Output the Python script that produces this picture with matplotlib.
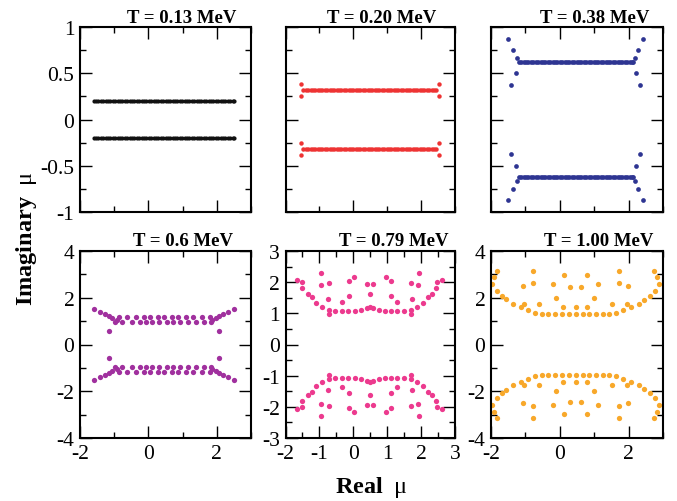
import matplotlib
matplotlib.use('Agg')
import matplotlib.pyplot as plt
from matplotlib.ticker import MultipleLocator, FormatStrFormatter

plt.rcParams['font.family'] = ['Liberation Serif', 'DejaVu Serif']
plt.rcParams['mathtext.fontset'] = 'custom'
plt.rcParams['mathtext.rm'] = 'Liberation Serif'
plt.rcParams['mathtext.bf'] = 'Liberation Serif:bold'
plt.rcParams['mathtext.it'] = 'Liberation Serif:italic'
plt.rcParams['axes.unicode_minus'] = False

# zeros in the upper half plane; the lower half is the complex conjugate
titles = ['T = 0.13 MeV', 'T = 0.20 MeV', 'T = 0.38 MeV',
          'T = 0.6 MeV', 'T = 0.79 MeV', 'T = 1.00 MeV']
colors = ['#111111', '#ee3333', '#2e3592', '#a0309e', '#ec3a8e', '#f8a82a']

# T = 0.13 : one dense row
t013_re = [-1.60, -1.53, -1.46, -1.39, -1.32, -1.25, -1.18, -1.11, -1.04, -0.97,
           -0.90, -0.83, -0.76, -0.69, -0.62, -0.55, -0.48, -0.41, -0.34, -0.27,
           -0.20, -0.13, -0.06, 0.01, 0.08, 0.15, 0.22, 0.29, 0.36, 0.43,
           0.50, 0.57, 0.64, 0.71, 0.78, 0.85, 0.92, 0.99, 1.06, 1.13,
           1.20, 1.27, 1.34, 1.41, 1.48, 1.55, 1.62, 1.69, 1.76, 1.83,
           1.90, 1.97, 2.04, 2.11, 2.18, 2.25, 2.32, 2.39, 2.46, 2.51]
t013_im = 0.20

# T = 0.20 : dense row + end points
t020_re = [-1.47, -1.40, -1.33, -1.26, -1.19, -1.12, -1.05, -0.98, -0.91, -0.84,
           -0.77, -0.70, -0.63, -0.56, -0.49, -0.42, -0.35, -0.28, -0.21, -0.14,
           -0.07, 0.00, 0.07, 0.14, 0.21, 0.28, 0.35, 0.42, 0.49, 0.56,
           0.63, 0.70, 0.77, 0.84, 0.91, 0.98, 1.05, 1.12, 1.19, 1.26,
           1.33, 1.40, 1.47, 1.54, 1.61, 1.68, 1.75, 1.82, 1.89, 1.96,
           2.03, 2.10, 2.17, 2.24, 2.31, 2.38, 2.44]
t020_im = 0.315
t020_end_re = [-1.53, -1.53, 2.53, 2.53]
t020_end_im = [0.38, 0.25, 0.38, 0.25]

# T = 0.38 : dense row + wings
t038_re = [-1.19, -1.12, -1.05, -0.98, -0.91, -0.84, -0.77, -0.70, -0.63, -0.56,
           -0.49, -0.42, -0.35, -0.28, -0.21, -0.14, -0.07, 0.00, 0.07, 0.14,
           0.21, 0.28, 0.35, 0.42, 0.49, 0.56, 0.63, 0.70, 0.77, 0.84,
           0.91, 0.98, 1.05, 1.12, 1.19, 1.26, 1.33, 1.40, 1.47, 1.54,
           1.61, 1.68, 1.75, 1.82, 1.89, 1.96, 2.03, 2.10, 2.13]
t038_im = 0.62
t038_wing_re = [-1.50, -1.35, -1.24, -1.27, -1.42, 2.42, 2.28, 2.18, 2.21, 2.34]
t038_wing_im = [0.87, 0.75, 0.66, 0.50, 0.37, 0.87, 0.75, 0.66, 0.50, 0.37]

# T = 0.6
t06_re = [-1.59, -1.41, -1.26, -1.14, -1.05, -1.14, -0.93,
          -0.86, -0.64, -0.36, -0.14, 0.05, 0.27, 0.47, 0.69, 0.88, 1.10, 1.30, 1.56, 1.79,
          -0.97, -0.78, -0.49, -0.24, -0.07, 0.10, 0.32, 0.54, 0.73, 0.93, 1.17, 1.40, 1.63, 1.83,
          1.85, 2.05, 1.97, 2.06, 2.17, 2.32, 2.49]
t06_im = [1.50, 1.37, 1.30, 1.23, 1.12, 0.59, 1.04,
          1.16, 1.16, 1.16, 1.16, 1.16, 1.16, 1.16, 1.16, 1.16, 1.16, 1.16, 1.16, 1.16,
          0.95, 0.95, 0.95, 0.95, 0.95, 0.95, 0.95, 0.95, 0.95, 0.95, 0.95, 0.95, 0.95, 0.95,
          1.04, 0.59, 1.12, 1.23, 1.30, 1.37, 1.50]

# T = 0.79
t079_re = [-1.66, -1.50, -1.50, -1.33, -1.22, -1.09, -0.92, -0.96, -0.94, -0.73,
           -0.75, -0.73, -0.72, -0.53, -0.32, -0.34, -0.14, -0.13, -0.15, 0.01,
           0.04, 0.22, 0.40, 0.40, 0.48, 0.49, 0.57, 0.59, 0.75, 0.95,
           0.93, 1.12, 1.12, 1.12, 1.28, 1.30, 1.49, 1.69, 1.71, 1.70,
           1.74, 1.91, 1.93, 1.87, 2.06, 2.19, 2.31, 2.45, 2.47, 2.63]
t079_im = [2.07, 2.02, 1.81, 1.62, 1.52, 1.34, 1.21, 2.29, 1.92, 1.97,
           1.47, 1.11, 0.98, 1.08, 1.35, 1.08, 2.05, 1.56, 1.08, 2.15,
           1.08, 1.10, 1.94, 1.16, 1.63, 1.21, 1.94, 1.16, 1.10, 2.15,
           1.08, 1.56, 2.05, 1.08, 1.35, 1.08, 1.08, 1.97, 1.11, 0.98,
           1.47, 1.92, 2.29, 1.21, 1.34, 1.52, 1.62, 1.81, 2.02, 2.07]

# T = 1.00
t100_re = [-1.96, -1.91, -1.83, -1.84, -1.69, -1.55, -1.37, -1.14, -1.04, -1.06,
           -0.92, -0.79, -0.79, -0.72, -0.60, -0.53, -0.33, -0.21, -0.14, -0.10,
           0.07, 0.09, 0.12, 0.27, 0.29, 0.46, 0.48, 0.61, 0.66, 0.79,
           0.80, 0.85, 0.99, 1.06, 1.11, 1.26, 1.43, 1.52, 1.62, 1.71,
           1.71, 1.83, 1.95, 1.98, 2.06, 2.29, 2.44, 2.61, 2.77, 2.73,
           2.82, 2.87]
t100_im = [2.58, 2.87, 3.13, 2.29, 2.08, 1.94, 1.75, 1.61, 1.75, 2.51,
           1.46, 3.13, 2.65, 1.36, 1.75, 1.32, 1.29, 2.58, 1.29, 2.01,
           1.29, 1.61, 2.98, 1.32, 2.46, 1.32, 1.61, 2.44, 1.29, 2.98,
           1.61, 1.29, 2.01, 1.29, 2.58, 1.29, 1.32, 1.72, 1.36, 3.13,
           2.65, 1.46, 1.75, 2.51, 1.61, 1.75, 1.90, 2.08, 2.29, 3.13,
           2.87, 2.58]


def conj(re, im):
    re = list(re)
    if not isinstance(im, list):
        im = [im] * len(re)
    return re + re, im + [-v for v in im]


panels = [
    [conj(t013_re, t013_im)],
    [conj(t020_re, t020_im), conj(t020_end_re, t020_end_im)],
    [conj(t038_re, t038_im), conj(t038_wing_re, t038_wing_im)],
    [conj(t06_re, t06_im)],
    [conj(t079_re, t079_im)],
    [conj(t100_re, t100_im)],
]
msizes = [3.0, 3.2, 3.4, 3.8, 3.8, 3.8]
title_x = [0.596, 0.569, 0.602, 0.605, 0.637, 0.625]

fig = plt.figure(figsize=(6.77, 5.02), dpi=100)
W, H = 677.0, 502.0
cols = [(80, 171), (285.5, 169.5), (491, 172)]
rows = [(28, 185), (252, 187)]

for i in range(6):
    r, c = divmod(i, 3)
    x0, w = cols[c]
    y0, h = rows[r]
    ax = fig.add_axes([x0 / W, 1 - (y0 + h) / H, w / W, h / H])
    for re, im in panels[i]:
        ax.plot(re, im, 'o', ms=msizes[i], color=colors[i], mec='none')
    ax.set_xlim(-2, 3)
    if r == 0:
        ax.set_ylim(-1, 1)
        ax.yaxis.set_major_locator(MultipleLocator(0.5))
        ax.yaxis.set_minor_locator(MultipleLocator(0.25))
        ax.xaxis.set_major_locator(MultipleLocator(2))
        ax.xaxis.set_minor_locator(MultipleLocator(1))
        ax.tick_params(labelbottom=False)
        if c > 0:
            ax.tick_params(labelleft=False)
    elif c == 1:
        ax.set_ylim(-3, 3)
        ax.yaxis.set_major_locator(MultipleLocator(1))
        ax.yaxis.set_minor_locator(MultipleLocator(0.5))
        ax.xaxis.set_major_locator(MultipleLocator(1))
        ax.xaxis.set_minor_locator(MultipleLocator(0.5))
    else:
        ax.set_ylim(-4, 4)
        ax.yaxis.set_major_locator(MultipleLocator(2))
        ax.yaxis.set_minor_locator(MultipleLocator(1))
        ax.xaxis.set_major_locator(MultipleLocator(2))
        ax.xaxis.set_minor_locator(MultipleLocator(1))
    ax.xaxis.set_major_formatter(FormatStrFormatter('%g'))
    ax.yaxis.set_major_formatter(FormatStrFormatter('%g'))
    ax.tick_params(which='both', direction='in', top=True, right=True,
                   labelsize=15.5, width=1.0)
    ax.tick_params(which='major', length=8.5, pad=4)
    ax.tick_params(which='minor', length=4.3)
    for s in ax.spines.values():
        s.set_linewidth(1.5)
    ax.text(title_x[i], 1 + 5.5 / h, titles[i], transform=ax.transAxes,
            ha='center', va='baseline', fontsize=13.5, fontweight='bold')

fig.text(0.549, 0.017, r'$\mathbf{Real}\ \ \mathrm{\mu}$', ha='center',
         va='baseline', fontsize=17.5)
fig.text(0.039, 0.524, r'$\mathbf{Imaginary}\ \ \mathrm{\mu}$', ha='center',
         va='center', rotation=90, fontsize=17.5)

fig.savefig('out.png', dpi=100)
